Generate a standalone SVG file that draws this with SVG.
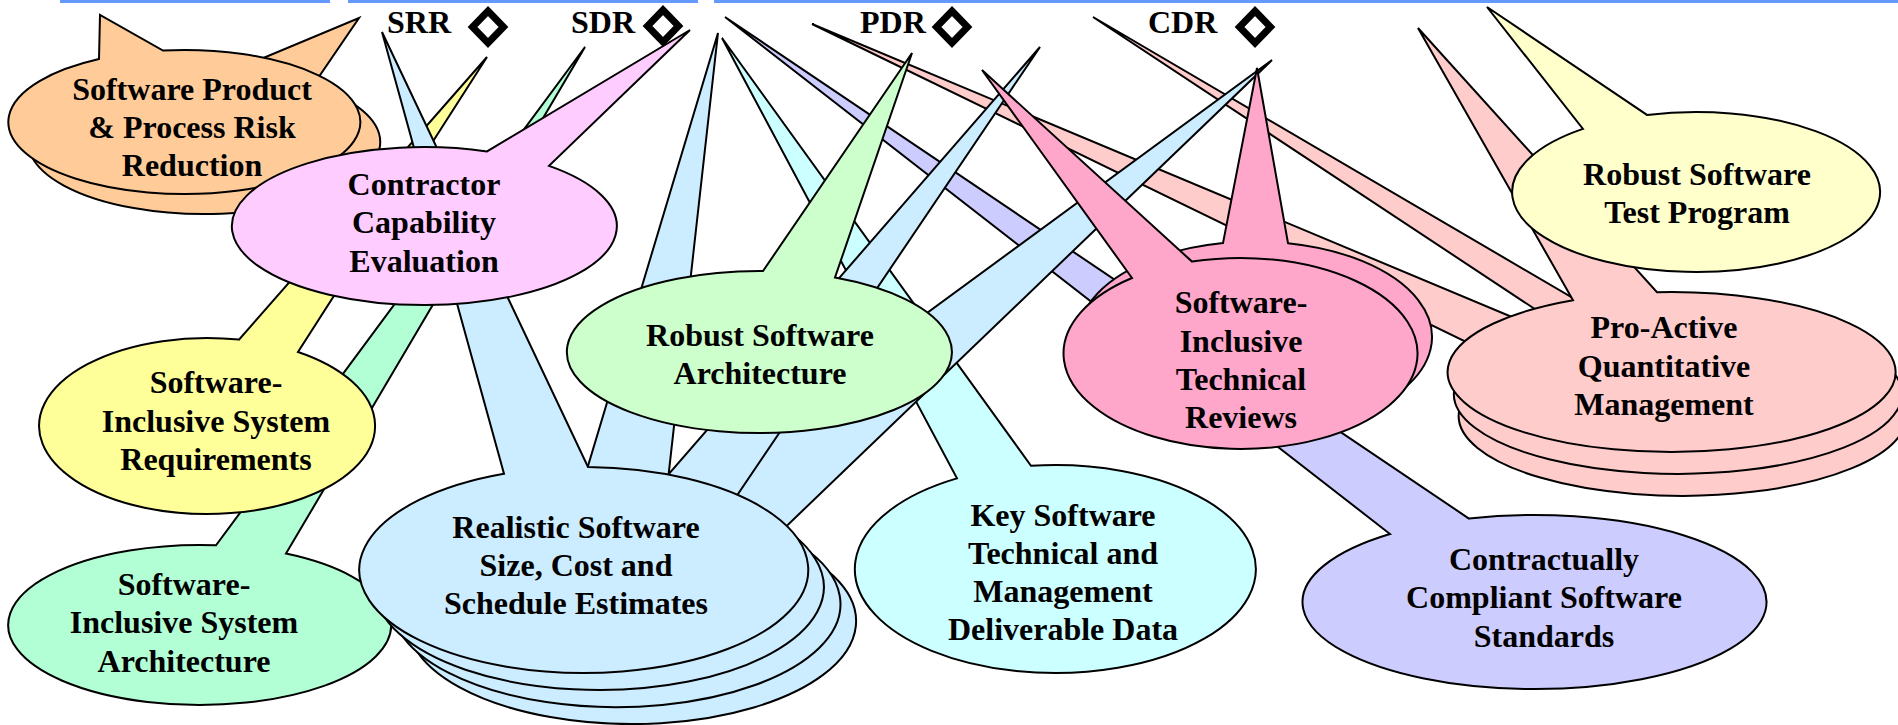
<svg xmlns="http://www.w3.org/2000/svg" width="1898" height="725" viewBox="0 0 1898 725">
  <style>
    .bal { stroke: #000; stroke-width: 2; stroke-linejoin: miter; }
    .lbl { font-family: "Liberation Serif", "Times New Roman", serif; font-weight: bold; font-size: 32px; fill: #000; text-anchor: middle; }
    .ms { font-family: "Liberation Serif", "Times New Roman", serif; font-weight: bold; font-size: 32px; fill: #000; }
    .dia { fill: #fff; stroke: #000; stroke-width: 7; stroke-linejoin: miter; }
    .bar { fill: #6699ff; }
  </style>

  <rect width="1898" height="725" fill="#fff"/>

  <!-- header rule -->
  <g id="header">
    <rect class="bar" x="60" y="0" width="270" height="3"/>
    <rect class="bar" x="348" y="0" width="350" height="3"/>
    <rect class="bar" x="714" y="0" width="1184" height="3"/>
  </g>

  <!-- balloons; each tail points at a review milestone -->
  <g id="connectors">
    <!-- Pro-Active Quantitative Management (three stacked) -->
    <g id="node-quant-mgmt">
      <path class="bal" fill="#ffcccc" d="M1640,337.3 A224,80 0 1 1 1587,343.5 L1093,17 Z"/>
      <path class="bal" fill="#ffcccc" d="M1543,330 A224,80 0 1 1 1487,352 L812,24 Z"/>
      <path class="bal" fill="#ffcccc" d="M1657,292.2 A224,80 0 1 1 1573,300.2 L1418,28 Z"/>
      <text class="lbl"><tspan x="1664" y="338">Pro-Active</tspan><tspan x="1664" y="377">Quantitative</tspan><tspan x="1664" y="415">Management</tspan></text>
    </g>

    <g id="node-test-program">
      <path class="bal" fill="#ffffcc" d="M1647,114.9 A184,80 0 1 1 1583,128.9 L1487,7 Z"/>
      <text class="lbl"><tspan x="1697" y="185">Robust Software</tspan><tspan x="1697" y="223">Test Program</tspan></text>
    </g>

    <g id="node-standards">
      <path class="bal" fill="#ccccff" d="M1469,518.6 A232,87 0 1 1 1390,534 L725,17 Z"/>
      <text class="lbl"><tspan x="1544" y="570">Contractually</tspan><tspan x="1544" y="608">Compliant Software</tspan><tspan x="1544" y="647">Standards</tspan></text>
    </g>

    <g id="node-deliverables">
      <path class="bal" fill="#ccffff" d="M1031,465.8 A200.5,104 0 1 1 957,478.4 L722,38 Z"/>
      <text class="lbl"><tspan x="1063" y="526">Key Software</tspan><tspan x="1063" y="564">Technical and</tspan><tspan x="1063" y="602">Management</tspan><tspan x="1063" y="640">Deliverable Data</tspan></text>
    </g>

    <g id="node-sys-arch">
      <path class="bal" fill="#b2ffd6" d="M286,553.6 A191.5,80 0 1 1 216,545.3 L585,47 Z"/>
      <text class="lbl"><tspan x="184" y="595">Software-</tspan><tspan x="184" y="633">Inclusive System</tspan><tspan x="184" y="672">Architecture</tspan></text>
    </g>

    <g id="node-sys-req">
      <path class="bal" fill="#ffff99" d="M298,352 A168,88 0 1 1 239,339.6 L487,57 Z"/>
      <text class="lbl"><tspan x="216" y="393">Software-</tspan><tspan x="216" y="432">Inclusive System</tspan><tspan x="216" y="470">Requirements</tspan></text>
    </g>

    <!-- Realistic estimates: four stacked, one per review -->
    <g id="node-estimates">
      <path class="bal" fill="#ccecff" d="M771.5,540.5 A224.5,103 0 1 1 647,518.3 L1272,60 Z"/>
      <path class="bal" fill="#ccecff" d="M724.5,514 A224.5,103 0 1 1 644.5,502 L1040,47 Z"/>
      <path class="bal" fill="#ccecff" d="M667,488.8 A224.5,103 0 1 1 582.5,484.3 L718,33 Z"/>
      <path class="bal" fill="#ccecff" d="M588,467 A224.5,103 0 1 1 504,473.7 L382,32 Z"/>
      <text class="lbl"><tspan x="576" y="538">Realistic Software</tspan><tspan x="576" y="576">Size, Cost and</tspan><tspan x="576" y="614">Schedule Estimates</tspan></text>
    </g>

    <g id="node-sw-arch">
      <path class="bal" fill="#ccffcc" d="M835,277.5 A192.5,81 0 1 1 763,271 L912,53 Z"/>
      <text class="lbl"><tspan x="760" y="346">Robust Software</tspan><tspan x="760" y="384">Architecture</tspan></text>
    </g>

    <g id="node-tech-reviews">
      <path class="bal" fill="#ffa7cb" d="M1288,243.2 A177,95.5 0 1 1 1223,243.1 L1257,68 Z"/>
      <path class="bal" fill="#ffa7cb" d="M1192,261.6 A177,95.5 0 1 1 1132,278 L982,70 Z"/>
      <text class="lbl"><tspan x="1241" y="313">Software-</tspan><tspan x="1241" y="352">Inclusive</tspan><tspan x="1241" y="390">Technical</tspan><tspan x="1241" y="428">Reviews</tspan></text>
    </g>

    <g id="node-risk">
      <path class="bal" fill="#ffcc99" d="M313,85.5 A176,72 0 1 1 232,71 L359,18 Z"/>
      <path class="bal" fill="#ffcc99" d="M163,50.5 A176,72 0 1 1 99,59 L100,15 Z"/>
      <text class="lbl"><tspan x="192" y="100">Software Product</tspan><tspan x="192" y="138">&amp; Process Risk</tspan><tspan x="192" y="176">Reduction</tspan></text>
    </g>

    <g id="node-capability">
      <path class="bal" fill="#ffccff" d="M549,165.9 A192.5,79 0 1 1 487,151.4 L690,30 Z"/>
      <text class="lbl"><tspan x="424" y="195">Contractor</tspan><tspan x="424" y="233">Capability</tspan><tspan x="424" y="272">Evaluation</tspan></text>
    </g>
  </g>

  <!-- review milestones -->
  <g id="milestones">
    <text class="ms" x="387" y="33">SRR</text>
    <polygon class="dia" points="488,11 503.5,27 488,43 472.5,27"/>
    <text class="ms" x="571" y="33">SDR</text>
    <polygon class="dia" points="663,10 678.5,26 663,42 647.5,26"/>
    <text class="ms" x="860" y="33">PDR</text>
    <polygon class="dia" points="952,11 967.5,27 952,43 936.5,27"/>
    <text class="ms" x="1148" y="33">CDR</text>
    <polygon class="dia" points="1255,11 1270.5,27 1255,43 1239.5,27"/>
  </g>
</svg>
